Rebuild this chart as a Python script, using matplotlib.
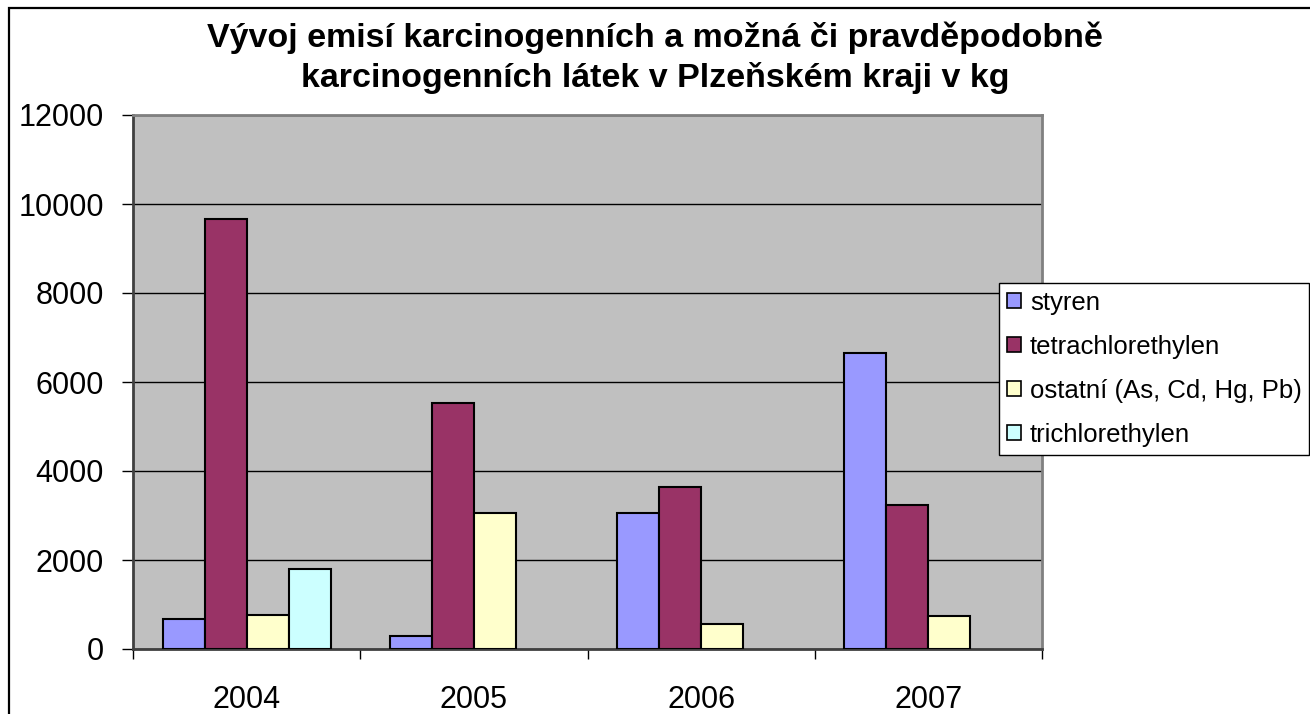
import matplotlib
matplotlib.use("Agg")
import matplotlib.pyplot as plt
from matplotlib.patches import Patch, Rectangle
import numpy as np

years = ["2004", "2005", "2006", "2007"]
series_names = ["styren", "tetrachlorethylen", "ostatní (As, Cd, Hg, Pb)", "trichlorethylen"]
styren = [680, 300, 3050, 6650]
tetrachlorethylen = [9670, 5520, 3630, 3230]
ostatni = [770, 3050, 570, 750]
trichlorethylen = [1800, 0, 0, 0]
yticks = [0, 2000, 4000, 6000, 8000, 10000, 12000]
title = "Vývoj emisí karcinogenních a možná či pravděpodobně\nkarcinogenních látek v Plzeňském kraji v kg"

colors = ["#9999FF", "#993366", "#FFFFCC", "#CCFFFF"]
data = [styren, tetrachlorethylen, ostatni, trichlorethylen]

plt.rcParams['font.family'] = ['Liberation Sans', 'DejaVu Sans']

W, H = 1310, 714
fig = plt.figure(figsize=(W / 100, H / 100), dpi=100)

# outer chart border
fig.patches.append(Rectangle((9 / W, -0.1), 1.2, 1 - 8 / H + 0.1, transform=fig.transFigure,
                             fill=False, edgecolor="black", linewidth=1.6))

ax = fig.add_axes([133 / W, (H - 649) / H, 909 / W, 534 / H])
ax.set_facecolor("#C0C0C0")

x = np.arange(len(years))
bw = 0.185
offsets = (np.arange(4) - 1.5) * bw
for i, (vals, c) in enumerate(zip(data, colors)):
    vals = np.array(vals, dtype=float)
    mask = vals > 0
    ax.bar(x[mask] + offsets[i], vals[mask], width=bw, color=c, edgecolor="black",
           linewidth=1.5, zorder=3)

ax.set_xlim(-0.5, 3.5)
ax.set_ylim(0, 12000)
ax.set_yticks(yticks)
ax.set_yticklabels([str(v) for v in yticks], fontsize=22)
ax.yaxis.grid(True, color="black", linewidth=1, zorder=1)
ax.set_axisbelow(True)

ax.set_xticks(x)
ax.set_xticklabels(years, fontsize=22)
ax.tick_params(axis="x", length=0, pad=26)
ax.set_xticks(np.arange(-0.5, 4.0, 1.0), minor=True)
ax.tick_params(axis="x", which="minor", length=7.5, width=1, color="black", direction="out")
ax.tick_params(axis="y", length=8, width=1, color="black", direction="out", pad=13)

for s in ax.spines.values():
    s.set_color("#808080")
    s.set_linewidth(2)
ax.spines["bottom"].set_color("#404040")
ax.spines["left"].set_color("#404040")

fig.text(0.5, 1 - 58 / H, title, ha="center", va="center", fontsize=24.5,
         fontweight="bold", linespacing=1.3)

handles = [Patch(facecolor=c, edgecolor="black", linewidth=1.2) for c in colors]
leg = fig.legend(handles, series_names, loc="upper left",
                 bbox_to_anchor=(999 / W, 1 - 283 / H), bbox_transform=fig.transFigure,
                 fontsize=18.5, frameon=True, fancybox=False, borderaxespad=0,
                 handlelength=0.55, handleheight=0.55, handletextpad=0.35,
                 labelspacing=0.78, borderpad=0.3, framealpha=1.0)
leg.get_frame().set_edgecolor("black")
leg.get_frame().set_facecolor("white")
leg.get_frame().set_linewidth(1)

fig.savefig("out.png", dpi=100)
